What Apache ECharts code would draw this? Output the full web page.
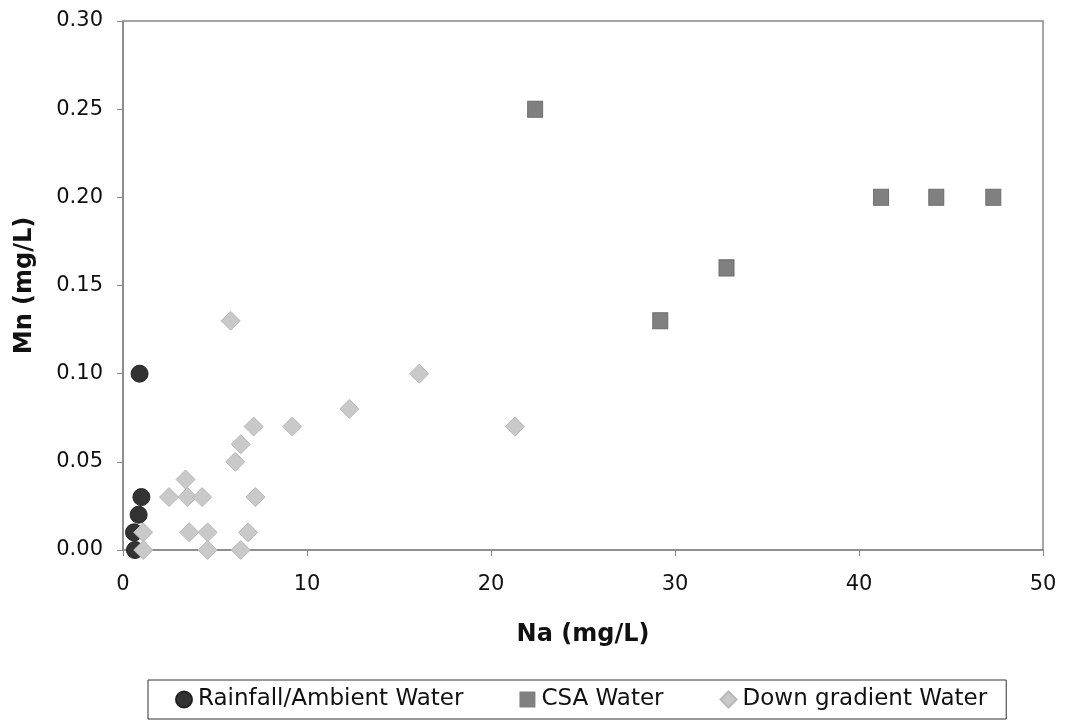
<!DOCTYPE html>
<html>
<head>
<meta charset="utf-8">
<script src="https://cdn.jsdelivr.net/npm/echarts@6/dist/echarts.min.js"></script>
<style>
  html, body { margin: 0; padding: 0; background: #fff; }
  #chart { width: 1071px; height: 721px; }
</style>
</head>
<body>
<div id="chart"></div>
<script>
// data: [Na, Mn]
var rainfall = [
    [0.9, 0.10], [1.0, 0.03], [0.85, 0.02], [0.6, 0.01], [0.65, 0.00]
];
var csa = [
    [22.4, 0.25], [29.2, 0.13], [32.8, 0.16], [41.2, 0.20], [44.2, 0.20], [47.3, 0.20]
];
var downGradient = [
    [5.85, 0.13], [16.1, 0.10], [12.3, 0.08], [7.1, 0.07], [9.2, 0.07], [21.3, 0.07],
    [6.4, 0.06], [6.1, 0.05], [3.4, 0.04], [2.5, 0.03], [3.5, 0.03], [4.3, 0.03],
    [7.2, 0.03], [1.1, 0.01], [3.6, 0.01], [4.6, 0.01], [6.8, 0.01], [1.1, 0.00],
    [4.6, 0.00], [6.4, 0.00]
];
var seriesNames = ["Rainfall/Ambient Water", "CSA Water", "Down gradient Water"];

var chart = echarts.init(document.getElementById("chart"));
var font = "DejaVu Sans, sans-serif";

chart.setOption({
    backgroundColor: "#fff",
    animation: false,
    grid: {
        left: 123,
        top: 21,
        width: 920,
        height: 529,
        show: true,
        borderColor: "#888",
        borderWidth: 1.5,
    },
    xAxis: {
        type: "value",
        min: 0,
        max: 50,
        interval: 10,
        name: "Na (mg/L)",
        nameLocation: "middle",
        nameGap: 73,
        nameTextStyle: { fontFamily: font, fontSize: 24, fontWeight: "bold", color: "#111" },
        axisLine: { lineStyle: { color: "#888", width: 1.5 } },
        axisTick: { show: true, length: 6, lineStyle: { color: "#888" } },
        axisLabel: { fontFamily: font, fontSize: 21, color: "#111", margin: 24 },
        splitLine: { show: false },
    },
    yAxis: {
        type: "value",
        min: 0,
        max: 0.3,
        interval: 0.05,
        name: "Mn (mg/L)",
        nameLocation: "middle",
        nameGap: 86,
        nameTextStyle: { fontFamily: font, fontSize: 24, fontWeight: "bold", color: "#111" },
        axisLine: { lineStyle: { color: "#888", width: 1.5 } },
        axisTick: { show: true, length: 6, lineStyle: { color: "#888" } },
        axisLabel: {
            fontFamily: font, fontSize: 21, color: "#111", margin: 20,
            formatter: function (v) { return v.toFixed(2); },
        },
        splitLine: { show: false },
    },
    legend: {
        left: 148,
        top: 680,
        orient: "horizontal",
        borderColor: "#333",
        borderWidth: 1,
        padding: [8, 19, 8, 27],
        itemGap: 56,
        itemWidth: 16,
        itemHeight: 16,
        textStyle: { fontFamily: font, fontSize: 23, color: "#111", padding: [0, 0, 0, 1] },
        data: [
            { name: seriesNames[0], icon: "circle" },
            { name: seriesNames[1], icon: "rect", itemStyle: { borderWidth: 0 } },
            { name: seriesNames[2], icon: "diamond" },
        ],
    },
    series: [
        {
            name: seriesNames[0],
            type: "scatter",
            symbol: "circle",
            symbolSize: 17,
            data: rainfall,
            itemStyle: { color: "#333", borderColor: "#222", borderWidth: 1, opacity: 1 },
        },
        {
            name: seriesNames[1],
            type: "scatter",
            symbol: "rect",
            symbolSize: [15, 16],
            data: csa,
            itemStyle: { color: "#808080", borderColor: "#6c6c6c", borderWidth: 1, opacity: 1 },
        },
        {
            name: seriesNames[2],
            type: "scatter",
            symbol: "diamond",
            symbolSize: 19,
            data: downGradient,
            itemStyle: { color: "#c9c9c9", borderColor: "#b9b9b9", borderWidth: 1, opacity: 1 },
        },
    ],
});
</script>
</body>
</html>
